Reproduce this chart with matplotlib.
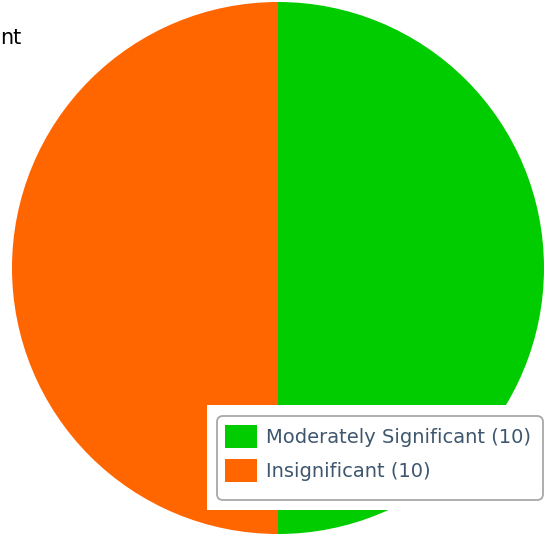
import matplotlib
matplotlib.use("Agg")
import matplotlib.pyplot as plt
from matplotlib.patches import Rectangle, FancyBboxPatch

categories = ["Moderately Significant", "Insignificant"]
values = [10, 10]
colors = ["#00CC00", "#FF6600"]
title_fragment = "nt"

W, H = 553, 537
fig = plt.figure(figsize=(W / 100, H / 100), dpi=100)
ax = fig.add_axes([0, 0, 1, 1])

wedges, _ = ax.pie(values, colors=colors, startangle=90, counterclock=False,
                   center=(278, 268), radius=266,
                   wedgeprops=dict(linewidth=0))
ax.set_xlim(0, W)
ax.set_ylim(H, 0)
ax.set_aspect("equal")
ax.axis("off")

# white backdrop of legend and its rounded border
ax.add_patch(Rectangle((207, 405), W - 207, 105, facecolor="white",
                       edgecolor="none", zorder=5))
ax.add_patch(FancyBboxPatch((217, 416), 543 - 217, 500 - 416,
                            boxstyle="round,pad=0,rounding_size=6",
                            facecolor="white", edgecolor="#A8A8A8",
                            linewidth=1.3, zorder=6))

labels = [f"{c} ({v})" for c, v in zip(categories, values)]
fs = 14
leg = fig.legend(wedges, labels, loc="upper left",
                 bbox_to_anchor=(225 / W, 1 - 425 / H),
                 fontsize=fs, handlelength=1.65, handleheight=1.45,
                 handletextpad=0.45, labelspacing=0.55, borderpad=0,
                 borderaxespad=0, frameon=False, labelcolor="#3E576F")
leg.set_zorder(10)

fig.text(0, 1 - 38 / H, title_fragment, fontsize=15, color="black",
         va="center", ha="left")

fig.savefig("out.png", dpi=100)
